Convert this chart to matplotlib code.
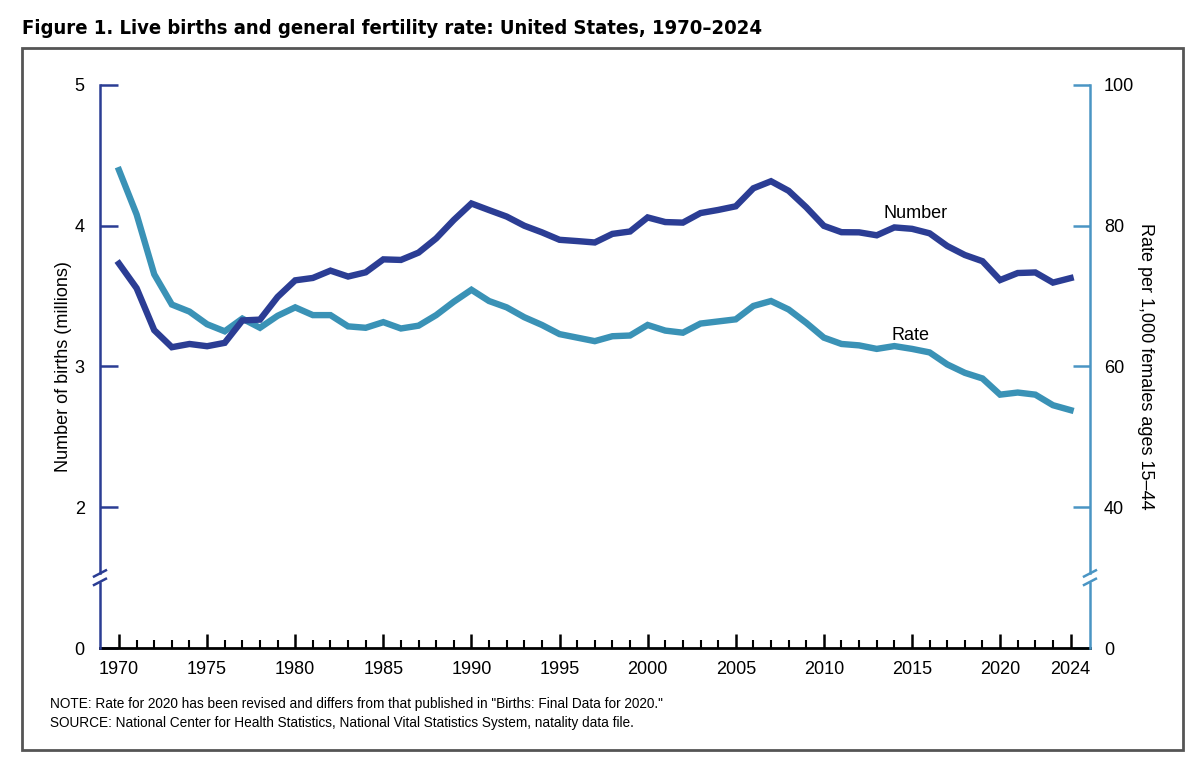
import numpy as np
import matplotlib.pyplot as plt
from matplotlib.patches import Rectangle

plt.rcParams['font.family'] = ['Liberation Sans', 'DejaVu Sans']

years = np.arange(1970, 2025)
births = [3.731, 3.556, 3.258, 3.137, 3.160, 3.144, 3.168, 3.327, 3.333, 3.494,
          3.612, 3.629, 3.681, 3.639, 3.669, 3.761, 3.757, 3.809, 3.910, 4.041,
          4.158, 4.111, 4.065, 4.000, 3.953, 3.900, 3.891, 3.881, 3.942, 3.959,
          4.059, 4.026, 4.022, 4.090, 4.112, 4.138, 4.266, 4.316, 4.248, 4.131,
          3.999, 3.954, 3.953, 3.932, 3.988, 3.978, 3.946, 3.856, 3.792, 3.748,
          3.614, 3.664, 3.668, 3.596, 3.628]
rate = [87.9, 81.6, 73.1, 68.8, 67.8, 66.0, 65.0, 66.8, 65.5, 67.2,
        68.4, 67.3, 67.3, 65.7, 65.5, 66.3, 65.4, 65.8, 67.3, 69.2,
        70.9, 69.3, 68.4, 67.0, 65.9, 64.6, 64.1, 63.6, 64.3, 64.4,
        65.9, 65.1, 64.8, 66.1, 66.4, 66.7, 68.6, 69.3, 68.1, 66.2,
        64.1, 63.2, 63.0, 62.5, 62.9, 62.5, 62.0, 60.3, 59.1, 58.3,
        56.0, 56.3, 56.0, 54.5, 53.8]

left_ticks = [1, 2, 3, 4, 5]
left_labels = ["0", "2", "3", "4", "5"]
right_ticks = [20, 40, 60, 80, 100]
right_labels = ["0", "40", "60", "80", "100"]
major_years = [1970, 1975, 1980, 1985, 1990, 1995, 2000, 2005, 2010, 2015, 2020, 2024]

c_num = "#2b3d94"
c_rate = "#3a92b6"
c_rate_axis = "#4a95c4"

fig = plt.figure(figsize=(12, 7.64), dpi=100)
ax = fig.add_axes([0.0833, 0.1518, 0.825, 0.737])
ax2 = ax.twinx()

ax.set_xlim(1968.92, 2025.1)
ax.set_ylim(1, 5)
ax2.set_ylim(20, 100)

ax2.plot(years, rate, color=c_rate, lw=4.6, solid_joinstyle="miter", zorder=2)
ax.plot(years, births, color=c_num, lw=4.6, solid_joinstyle="miter", zorder=3)
ax.set_zorder(ax2.get_zorder() + 1)
ax.patch.set_visible(False)

for a in (ax, ax2):
    for s in a.spines.values():
        s.set_visible(False)

# x axis line
ax.axhline(1, color="black", lw=2, clip_on=False)

# broken y spines
yt = ax.get_yaxis_transform()
brk = 1.5
ax.plot([0, 0], [1, brk - 0.035], transform=yt, color=c_num, lw=1.8, clip_on=False)
ax.plot([0, 0], [brk + 0.035, 5], transform=yt, color=c_num, lw=1.8, clip_on=False)
ax.plot([1, 1], [1, brk - 0.035], transform=yt, color=c_rate_axis, lw=1.8, clip_on=False)
ax.plot([1, 1], [brk + 0.035, 5], transform=yt, color=c_rate_axis, lw=1.8, clip_on=False)
for xa, col in ((0, c_num), (1, c_rate_axis)):
    for dy in (-0.03, 0.03):
        ax.plot([xa - 0.006, xa + 0.006], [brk + dy - 0.022, brk + dy + 0.022],
                transform=yt, color=col, lw=1.8, clip_on=False)

ax.set_xticks(major_years)
ax.set_xticks(years, minor=True)
ax.tick_params(axis="x", which="major", direction="in", length=10, width=1.8,
               color="black", labelsize=13, pad=9)
ax.tick_params(axis="x", which="minor", direction="in", length=6, width=1.5, color="black")

ax.set_yticks(left_ticks)
ax.set_yticklabels(left_labels)
ax.tick_params(axis="y", direction="in", length=13, width=1.8, color=c_num,
               labelsize=13, pad=11)
ax2.set_yticks(right_ticks)
ax2.set_yticklabels(right_labels)
ax2.tick_params(axis="y", direction="in", length=12, width=1.8, color=c_rate_axis,
                labelsize=13, pad=10)

ax.set_ylabel("Number of births (millions)", fontsize=13, labelpad=2)
ax2.set_ylabel("Rate per 1,000 females ages 15\u201344", fontsize=13,
               rotation=-90, labelpad=14)

ax.text(2015.2, 4.09, "Number", fontsize=13, ha="center", va="center")
ax.text(2014.9, 3.22, "Rate", fontsize=13, ha="center", va="center")

fig.text(0.0183, 0.955, "Figure 1. Live births and general fertility rate: United States, 1970\u20132024",
         fontsize=14.5, fontweight="bold", fontstretch="condensed", family="DejaVu Sans",
         ha="left", va="baseline")

fig.text(0.0417, 0.0484,
         "NOTE: Rate for 2020 has been revised and differs from that published in \"Births: Final Data for 2020.\"\n"
         "SOURCE: National Center for Health Statistics, National Vital Statistics System, natality data file.",
         fontsize=9.8, ha="left", va="baseline", linespacing=1.45)

fig.patches.append(Rectangle((0.0183, 0.0183), 0.9675, 0.9188, transform=fig.transFigure,
                             fill=False, edgecolor="#555555", lw=2))

fig.savefig("out.png", dpi=100)
